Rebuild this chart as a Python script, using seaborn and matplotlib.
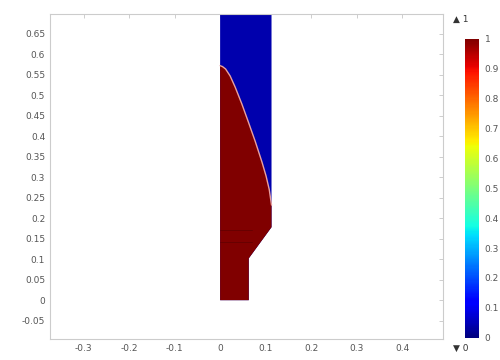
import numpy as np
import pandas as pd
import matplotlib
matplotlib.use("Agg")
import matplotlib.pyplot as plt
import seaborn as sns

# geometry of the domain (outer boundary, counter-clockwise from origin)
domain_x = [0.0, 0.063, 0.063, 0.113, 0.113, 0.0]
domain_y = [0.0, 0.0, 0.102, 0.178, 0.70, 0.70]

# interface between the two phases
iface_x = [0.0, 0.005, 0.012, 0.022, 0.033, 0.048, 0.062, 0.077, 0.092, 0.101, 0.108, 0.113]
iface_y = [0.572, 0.570, 0.564, 0.547, 0.520, 0.478, 0.435, 0.388, 0.337, 0.303, 0.270, 0.232]

# internal mesh boundaries visible as thin dark lines
inner_y = [0.142, 0.17]
inner_x_end = [0.07, 0.07]

phase_lo, phase_hi = 0.04, 1.0   # volume fraction values of the two phases

xticks = [-0.3, -0.2, -0.1, 0, 0.1, 0.2, 0.3, 0.4]
yticks = [-0.05, 0, 0.05, 0.1, 0.15, 0.2, 0.25, 0.3, 0.35, 0.4, 0.45, 0.5, 0.55, 0.6, 0.65]
cbar_ticks = [0, 0.1, 0.2, 0.3, 0.4, 0.5, 0.6, 0.7, 0.8, 0.9, 1]

sns.set_style("white")
cmap = plt.get_cmap("jet")
grey = "#555555"

fig = plt.figure(figsize=(5, 3.6), dpi=100)
ax = fig.add_axes([0.1, 0.058, 0.786, 0.903])

# upper phase: whole domain in blue
ax.fill(domain_x, domain_y, color=cmap(phase_lo), lw=0)
# lower phase: below the interface
lower_x = domain_x[:4] + iface_x[::-1]
lower_y = domain_y[:4] + iface_y[::-1]
ax.fill(lower_x, lower_y, color=cmap(phase_hi), lw=0)

for y, xe in zip(inner_y, inner_x_end):
    ax.plot([0, xe], [y, y], color="#3a0000", lw=0.6, alpha=0.4)

df = pd.DataFrame({"x": iface_x, "y": iface_y})
sns.lineplot(data=df, x="x", y="y", ax=ax, color="#e8a0a0", lw=1.0, sort=False)

ax.set_xlim(-0.374, 0.49)
ax.set_ylim(-0.095, 0.698)
ax.set_xticks(xticks)
ax.set_yticks(yticks)
ax.set_xticklabels([f"{t:g}" for t in xticks])
ax.set_yticklabels([f"{t:g}" for t in yticks])
ax.set_xlabel("")
ax.set_ylabel("")
ax.tick_params(direction="in", length=3, width=0.5, color="#bbbbbb",
               labelsize=6.5, labelcolor=grey, top=True, right=True)
for s in ax.spines.values():
    s.set_color("#cccccc")
    s.set_linewidth(0.8)

cax = fig.add_axes([0.93, 0.062, 0.028, 0.83])
sm = plt.cm.ScalarMappable(cmap=cmap, norm=plt.Normalize(0, 1))
cb = fig.colorbar(sm, cax=cax, ticks=cbar_ticks)
cb.outline.set_visible(False)
cb.ax.tick_params(length=0, labelsize=6.5, labelcolor=grey, pad=4)
cb.ax.set_yticklabels([f"{t:g}" for t in cbar_ticks])

fig.text(0.906, 0.945, "\u25B2 1", fontsize=6.5, color="#333333", va="center")
fig.text(0.906, 0.033, "\u25BC 0", fontsize=6.5, color="#333333", va="center")

fig.savefig("out.png", dpi=100)
